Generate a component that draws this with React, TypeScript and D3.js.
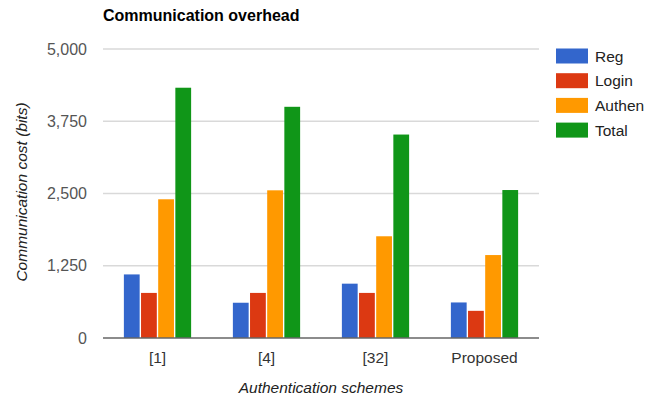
import React from "react";
import * as d3 from "d3";

const categories = ["[1]", "[4]", "[32]", "Proposed"];
const seriesNames = ["Reg", "Login", "Authen", "Total"];
const reg = [1100, 610, 940, 615];
const login = [780, 780, 780, 470];
const authen = [2400, 2555, 1760, 1435];
const total = [4330, 4000, 3520, 2560];
const yTicks = [0, 1250, 2500, 3750, 5000];
const colors = ["#3366cc", "#dc3912", "#ff9900", "#109618"];

const W = 657;
const H = 400;
const M = { left: 103, right: 539, top: 49, bottom: 338 };
const FONT = "'Liberation Sans', Arial, sans-serif";

export default function App() {
  const series = [reg, login, authen, total];
  const x0 = d3.scaleBand<string>().domain(categories).range([M.left, M.right]).paddingInner(0.383).paddingOuter(0.1915);
  const x1 = d3.scaleBand<number>().domain(d3.range(series.length)).range([0, x0.bandwidth()]).paddingInner(0.08);
  const y = d3.scaleLinear().domain([0, 5000]).range([M.bottom, M.top]);
  const fmt = d3.format(",");

  return (
    <svg width={W} height={H} style={{ position: "absolute", left: 0, top: 0, background: "#fff" }} fontFamily={FONT}>
      <rect width={W} height={H} fill="#fff" />
      <text x={M.left} y={21} fontSize={16} fontWeight="bold" fill="#000">Communication overhead</text>
      {yTicks.map((t) => (
        <g key={t}>
          {t !== 0 && <line x1={M.left} x2={M.right} y1={y(t)} y2={y(t)} stroke="#d9d9d9" strokeWidth={1.5} />}
          <text x={87} y={y(t) + 5.5} textAnchor="end" fontSize={16} fill="#555">{fmt(t)}</text>
        </g>
      ))}
      {categories.map((c, i) => (
        <g key={c}>
          {series.map((s, j) => (
            <rect
              key={j}
              x={(x0(c) as number) + (x1(j) as number)}
              y={y(s[i])}
              width={x1.bandwidth()}
              height={y(0) - y(s[i])}
              fill={colors[j]}
            />
          ))}
          <text x={(x0(c) as number) + x0.bandwidth() / 2} y={363} textAnchor="middle" fontSize={15.5} fill="#333">{c}</text>
        </g>
      ))}
      <line x1={M.left} x2={M.right} y1={y(0)} y2={y(0)} stroke="#666" strokeWidth={1.5} />
      <text x={(M.left + M.right) / 2} y={393} textAnchor="middle" fontSize={15.5} fontStyle="italic" fill="#222">Authentication schemes</text>
      <text transform={`translate(27,192) rotate(-90)`} textAnchor="middle" fontSize={15.5} fontStyle="italic" fill="#222">Communication cost (bits)</text>
      {seriesNames.map((n, j) => (
        <g key={n} transform={`translate(556,${48.5 + j * 24.7})`}>
          <rect width={32} height={15} fill={colors[j]} />
          <text x={39} y={13} fontSize={15.5} fill="#222">{n}</text>
        </g>
      ))}
    </svg>
  );
}
